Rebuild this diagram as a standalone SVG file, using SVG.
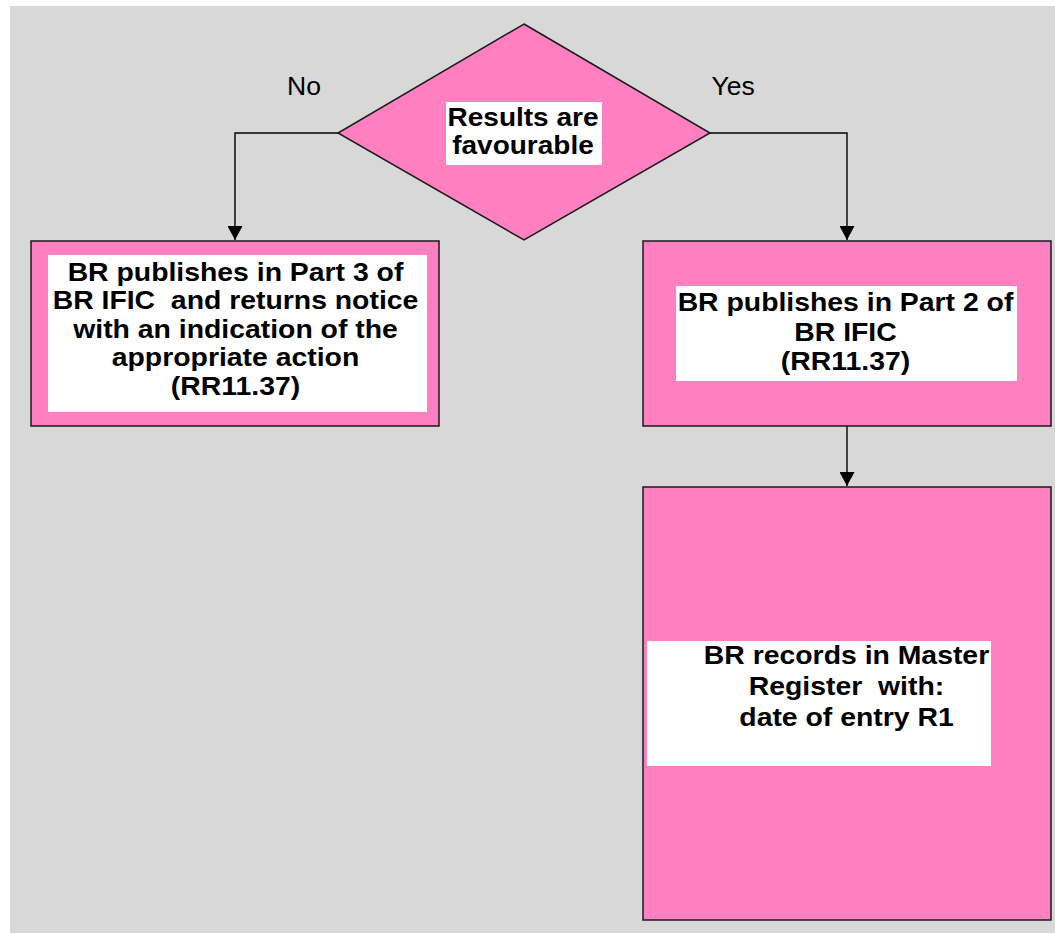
<svg xmlns="http://www.w3.org/2000/svg" width="1055" height="933" viewBox="0 0 1055 933">
  <style>
    .shape { fill: #FF80C0; stroke: #1a1a1a; stroke-width: 1.5; }
    .pad { fill: #FFFFFF; stroke: none; }
    .lbl { font-family: "Liberation Sans", Arial, sans-serif; font-size: 25px; font-weight: bold; fill: #000; text-anchor: middle; }
    .yn { font-family: "Liberation Sans", Arial, sans-serif; font-size: 26.5px; fill: #000; }
    .conn { fill: none; stroke: #000; stroke-width: 1.4; }
  </style>
  <defs>
    <marker id="arrow" markerWidth="14" markerHeight="15" refX="14" refY="7.5" orient="auto" markerUnits="userSpaceOnUse" viewBox="0 0 14 15">
      <path d="M0,0 L14,7.5 L0,15 Z" fill="#000"/>
    </marker>
  </defs>
  <rect x="0" y="0" width="1055" height="933" fill="#FFFFFF"/>
  <rect x="10" y="6" width="1045" height="927" fill="#D8D8D8"/>

  <g id="connectors">
    <polyline class="conn" points="338,133 235,133 235,240" marker-end="url(#arrow)"/>
    <polyline class="conn" points="710,133 847,133 847,240" marker-end="url(#arrow)"/>
    <line class="conn" x1="847" y1="426" x2="847" y2="486" marker-end="url(#arrow)"/>
  </g>

  <g id="label-no"><text class="yn" x="287" y="94.5">No</text></g>
  <g id="label-yes"><text class="yn" x="711.5" y="94.5">Yes</text></g>

  <g id="decision">
    <polygon class="shape" points="524,24 710,133 524,240 338,133"/>
    <rect class="pad" x="446" y="102" width="156" height="63"/>
    <g transform="translate(523,0) scale(1.12,1)">
      <text class="lbl" x="0" y="126.5">Results are</text>
      <text class="lbl" x="0" y="154.5">favourable</text>
    </g>
  </g>

  <g id="part3">
    <rect class="shape" x="31" y="241" width="408" height="185"/>
    <rect class="pad" x="48" y="255" width="379" height="157"/>
    <g transform="translate(235.5,0) scale(1.135,1)">
      <text class="lbl" x="0" y="281">BR publishes in Part 3 of</text>
      <text class="lbl" x="0" y="309.5" xml:space="preserve">BR IFIC  and returns notice</text>
      <text class="lbl" x="0" y="338">with an indication of the</text>
      <text class="lbl" x="0" y="366.5">appropriate action</text>
      <text class="lbl" x="0" y="395">(RR11.37)</text>
    </g>
  </g>

  <g id="part2">
    <rect class="shape" x="643" y="241" width="408" height="185"/>
    <rect class="pad" x="676" y="286" width="341" height="95"/>
    <g transform="translate(845.5,0) scale(1.135,1)">
      <text class="lbl" x="0" y="311.5">BR publishes in Part 2 of</text>
      <text class="lbl" x="0" y="341.5">BR IFIC</text>
      <text class="lbl" x="0" y="370.5">(RR11.37)</text>
    </g>
  </g>

  <g id="master-register">
    <rect class="shape" x="643" y="487" width="408" height="433"/>
    <rect class="pad" x="647" y="641" width="344" height="125"/>
    <g transform="translate(846.5,0) scale(1.135,1)">
      <text class="lbl" x="0" y="664.5">BR records in Master</text>
      <text class="lbl" x="0" y="695.5" xml:space="preserve">Register  with:</text>
      <text class="lbl" x="0" y="726.5">date of entry R1</text>
    </g>
  </g>
</svg>
